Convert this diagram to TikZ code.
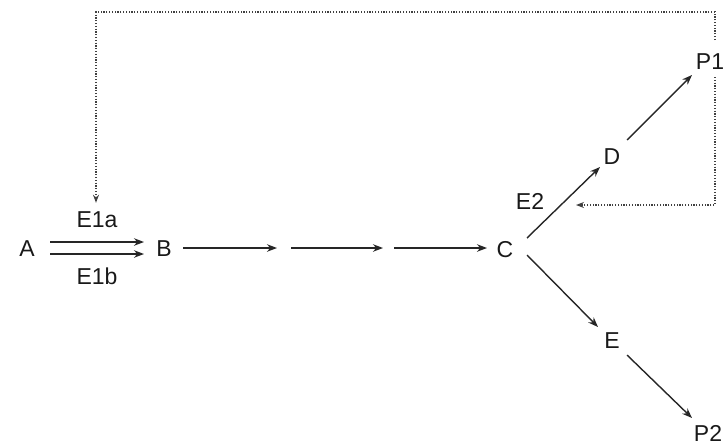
\documentclass[tikz,border=0pt]{standalone}
\usepackage{fontspec}
\setmainfont{Liberation Sans}
\usetikzlibrary{arrows.meta,calc}
\begin{document}
\begin{tikzpicture}[x=1pt,y=-1pt,
  lbl/.style={inner sep=0pt,font=\fontsize{23}{27}\selectfont,text=black!90},
  rxn/.style={line width=1.4pt,draw=black!85,-{Stealth[length=10pt,width=7.5pt]}},
  fb/.style={line width=1.3pt,draw=black!75,dash pattern=on 1.2pt off 1.6pt,-{Stealth[length=8pt,width=6pt]}}]
\useasboundingbox (0,0) rectangle (728,445);
% nodes
\node[lbl] (A) at (27,249) {A};
\node[lbl] (B) at (164,249) {B};
\node[lbl] (C) at (505,250) {C};
\node[lbl] (D) at (612,157) {D};
\node[lbl] (E) at (612,341) {E};
\node[lbl] (P1) at (710,62) {P1};
\node[lbl] (P2) at (708,433) {P2};
\node[lbl] (E1a) at (97,220) {E1a};
\node[lbl] (E1b) at (97,276) {E1b};
\node[lbl] (E2) at (530,201) {E2};
\coordinate (n1) at (284,248);
\coordinate (n2) at (389,248);
\coordinate (tl) at (96,12);
\coordinate (tr) at (715,12);
\coordinate (br) at (715,205);
\coordinate (e2t) at (576,205);
% reactions
\draw[rxn] ($(A)+(23,-7)$) -- ($(B)+(-20,-7)$);
\draw[rxn] ($(A)+(23,5)$) -- ($(B)+(-20,5)$);
\draw[rxn] ($(B)+(19,-1)$) -- ($(n1)+(-7,0)$);
\draw[rxn] ($(n1)+(7,0)$) -- ($(n2)+(-6,0)$);
\draw[rxn] ($(n2)+(5,0)$) -- ($(C)+(-18,-2)$);
\draw[rxn] ($(C)+(22,-12)$) -- ($(D)+(-12,10)$);
\draw[rxn] ($(D)+(15,-17)$) -- ($(P1)+(-18,13)$);
\draw[rxn] ($(C)+(22,5)$) -- ($(E)+(-14,-14)$);
\draw[rxn] ($(E)+(15,14)$) -- ($(P2)+(-16,-15)$);
% feedback
\draw[fb] ($(P1)+(5,-22)$) -- (tr) -- (tl) -- ($(E1a.north)+(-1,-9)$);
\draw[fb] ($(P1)+(5,15)$) -- (br) -- (e2t);
\end{tikzpicture}
\end{document}
